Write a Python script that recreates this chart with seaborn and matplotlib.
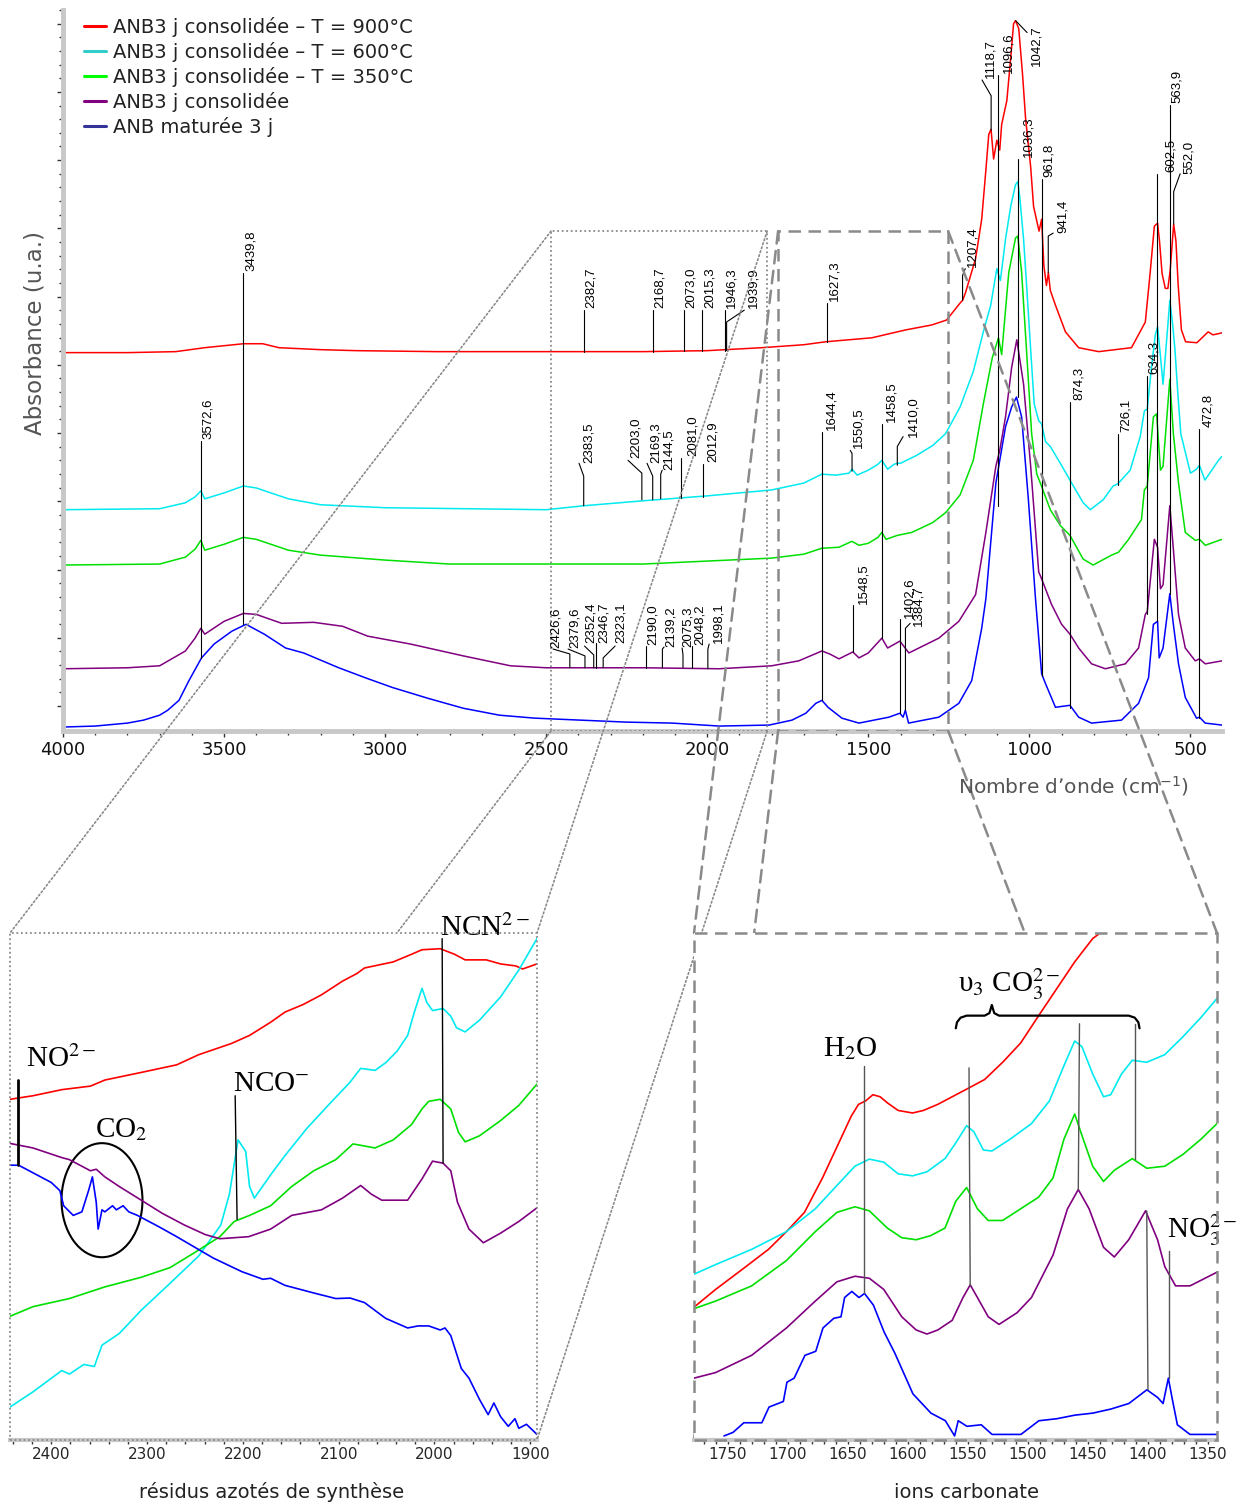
import numpy as np
import pandas as pd
import matplotlib
matplotlib.use("Agg")
import matplotlib.pyplot as plt
import seaborn as sns
from matplotlib.lines import Line2D
from matplotlib.patches import Rectangle, Ellipse, ConnectionPatch
from matplotlib.ticker import MultipleLocator, NullFormatter

sns.set_theme(style="white")
plt.rcParams["font.family"] = ["DejaVu Sans"]
plt.rcParams["mathtext.fontset"] = "dejavusans"

red = "#FF0000"
cyan = "#00EAF0"
green = "#00E000"
purple = "#800080"
blue = "#0000FF"
grey = "#8A8A8A"
axis_grey = "#C8C8C8"

# ---------------- main spectra (wavenumber cm-1 / absorbance u.a., stacked) ----------------
red_w = [4000, 3800, 3650, 3560, 3500, 3440, 3380, 3330, 3200, 3090, 2840, 2500, 2200, 2000, 1830,
         1700, 1632, 1489, 1384, 1303, 1257, 1213, 1207, 1198, 1167, 1148, 1136, 1126, 1119, 1111,
         1101, 1092, 1086, 1070, 1058, 1049, 1043, 1033, 1021, 1012, 996, 987, 970, 962, 955, 947,
         941, 935, 919, 888, 847, 785, 683, 640, 625, 612, 602, 596, 588, 578, 570, 563, 552, 545,
         538, 528, 515, 480, 445, 430, 402]
red_a = [3.83, 3.83, 3.84, 3.88, 3.90, 3.92, 3.92, 3.88, 3.86, 3.85, 3.84, 3.84, 3.84, 3.85, 3.88,
         3.91, 3.94, 3.98, 4.06, 4.11, 4.16, 4.34, 4.36, 4.44, 4.78, 5.18, 5.64, 6.04, 6.09, 5.79,
         5.98, 5.88, 6.14, 6.38, 6.81, 7.16, 7.19, 7.11, 6.64, 6.21, 5.71, 5.31, 5.06, 5.18, 4.71, 4.51,
         4.64, 4.46, 4.31, 4.04, 3.88, 3.84, 3.88, 4.14, 4.64, 5.11, 5.14, 4.96, 4.63, 4.48, 4.48, 4.66,
         5.13, 4.96, 4.51, 4.06, 3.94, 3.93, 4.04, 4.01, 4.03]

cyan_w = [4000, 3700, 3620, 3590, 3572, 3560, 3500, 3440, 3400, 3300, 3200, 3000, 2500, 2383, 2200,
          2000, 1800, 1700, 1644, 1600, 1560, 1550, 1535, 1500, 1470, 1458, 1440, 1420, 1410, 1400,
          1350, 1300, 1260, 1215, 1174, 1143, 1120, 1101, 1090, 1074, 1058, 1043, 1036, 1030, 1018,
          1008, 995, 985, 971, 962, 950, 935, 904, 874, 833, 811, 771, 740, 726, 687, 656, 643, 634,
          621, 609, 602, 595, 585, 575, 564, 555, 548, 540, 530, 500, 481, 472, 455, 440, 413, 402]
cyan_a = [2.24, 2.25, 2.31, 2.37, 2.43, 2.35, 2.41, 2.48, 2.46, 2.35, 2.29, 2.26, 2.24, 2.28, 2.33,
          2.38, 2.44, 2.51, 2.60, 2.59, 2.61, 2.65, 2.59, 2.64, 2.70, 2.74, 2.65, 2.70, 2.71, 2.71,
          2.79, 2.89, 3.01, 3.28, 3.64, 4.04, 4.31, 4.68, 4.56, 4.98, 5.31, 5.53, 5.56, 5.41, 4.98,
          4.48, 3.81, 3.31, 3.14, 3.11, 2.93, 2.88, 2.71, 2.54, 2.31, 2.24, 2.34, 2.48, 2.50, 2.64,
          2.98, 3.24, 3.26, 3.68, 4.01, 4.09, 3.86, 3.51, 3.91, 4.36, 4.11, 3.86, 3.46, 3.01, 2.61,
          2.65, 2.69, 2.54, 2.61, 2.74, 2.78]

green_w = [4000, 3700, 3620, 3590, 3572, 3560, 3500, 3440, 3400, 3300, 3200, 3000, 2800, 2200, 2000,
           1800, 1700, 1644, 1591, 1551, 1529, 1500, 1470, 1458, 1445, 1410, 1365, 1300, 1260, 1215,
           1174, 1143, 1115, 1096, 1086, 1064, 1043, 1036, 1024, 1008, 993, 977, 966, 935, 904, 874,
           833, 802, 745, 723, 692, 652, 643, 634, 615, 605, 593, 585, 564, 553, 537, 516, 485, 472,
           454, 402]
green_a = [1.68, 1.69, 1.76, 1.84, 1.93, 1.83, 1.89, 1.96, 1.94, 1.83, 1.78, 1.73, 1.69, 1.69, 1.72,
           1.75, 1.79, 1.85, 1.86, 1.92, 1.88, 1.90, 1.96, 2.01, 1.94, 1.98, 2.01, 2.11, 2.21, 2.39,
           2.74, 3.31, 3.78, 3.98, 3.81, 4.64, 4.99, 5.01, 4.64, 3.81, 3.01, 2.60, 2.51, 2.24, 2.08,
           1.98, 1.74, 1.68, 1.78, 1.81, 1.94, 2.14, 2.44, 2.48, 3.18, 3.21, 2.64, 2.68, 3.56, 3.01,
           2.51, 2.01, 1.93, 1.94, 1.88, 1.94]

purple_w = [4000, 3800, 3700, 3620, 3590, 3572, 3560, 3500, 3440, 3400, 3321, 3222, 3132, 3054, 2921,
            2757, 2611, 2500, 2200, 1963, 1800, 1716, 1644, 1620, 1591, 1548, 1529, 1500, 1458, 1440,
            1402, 1374, 1281, 1219, 1167, 1135, 1104, 1092, 1074, 1055, 1039, 1018, 996, 971, 962,
            931, 900, 874, 847, 807, 764, 702, 661, 640, 634, 612, 602, 593, 585, 564, 553, 537, 516,
            485, 472, 454, 402]
purple_a = [0.63, 0.64, 0.66, 0.81, 0.94, 1.04, 0.98, 1.11, 1.19, 1.18, 1.09, 1.10, 1.06, 0.96, 0.88,
            0.76, 0.66, 0.64, 0.64, 0.63, 0.66, 0.71, 0.81, 0.78, 0.73, 0.80, 0.74, 0.79, 0.94, 0.84,
            0.91, 0.79, 0.94, 1.11, 1.38, 2.01, 2.68, 2.84, 3.18, 3.68, 3.96, 3.51, 2.68, 1.61, 1.54,
            1.28, 1.08, 0.98, 0.84, 0.68, 0.63, 0.68, 0.84, 1.18, 1.21, 1.94, 1.86, 1.44, 1.48, 2.28,
            1.84, 1.18, 0.84, 0.71, 0.73, 0.68, 0.71]

blue_w = [4000, 3900, 3800, 3750, 3700, 3675, 3640, 3609, 3570, 3531, 3476, 3432, 3375, 3309, 3253,
          3144, 3054, 2977, 2866, 2757, 2645, 2535, 2252, 2109, 1963, 1808, 1737, 1694, 1663, 1644,
          1625, 1582, 1529, 1436, 1402, 1392, 1385, 1375, 1281, 1219, 1179, 1148, 1135, 1104, 1074,
          1055, 1040, 1024, 1003, 981, 962, 950, 919, 874, 847, 807, 714, 661, 630, 615, 602, 597,
          585, 564, 553, 537, 516, 481, 472, 454, 402]
blue_a = [0.04, 0.05, 0.08, 0.11, 0.16, 0.21, 0.31, 0.51, 0.74, 0.88, 1.01, 1.08, 0.98, 0.84, 0.79,
          0.64, 0.53, 0.44, 0.33, 0.23, 0.16, 0.13, 0.09, 0.08, 0.05, 0.06, 0.11, 0.18, 0.28, 0.31,
          0.24, 0.13, 0.08, 0.14, 0.18, 0.14, 0.21, 0.08, 0.14, 0.28, 0.51, 1.04, 1.34, 2.51, 3.08,
          3.28, 3.38, 3.18, 2.34, 1.34, 0.58, 0.48, 0.24, 0.26, 0.14, 0.08, 0.11, 0.28, 0.54, 1.08,
          1.11, 0.74, 0.84, 1.39, 1.08, 0.68, 0.34, 0.13, 0.14, 0.08, 0.06]

legend_labels = ["ANB3 j consolidée – T = 900°C", "ANB3 j consolidée – T = 600°C",
                 "ANB3 j consolidée – T = 350°C", "ANB3 j consolidée", "ANB maturée 3 j"]
legend_colors = ["#FF0000", "#33CCCC", "#00FF00", "#800080", "#333399"]

# peak marks: text, line wavenumber, y on curve, y top, leader end (w, y), text pos (w, y)
main_marks = [
    ("3439,8", 3439.8, 1.08, 4.64, None, None, 3436, 4.66),
    ("3572,6", 3572.6, 0.74, 2.94, None, None, 3569, 2.96),
    ("2382,7", 2382.7, 3.84, 4.26, None, None, 2379, 4.28),
    ("2168,7", 2168.7, 3.84, 4.26, None, None, 2165, 4.28),
    ("2073,0", 2073.0, 3.85, 4.26, None, None, 2070, 4.28),
    ("2015,3", 2015.3, 3.85, 4.26, None, None, 2012, 4.28),
    ("1946,3", 1946.3, 3.85, 4.26, None, None, 1943, 4.28),
    ("1939,9", 1939.9, 3.85, 4.14, 1885, 4.26, 1876, 4.28),
    ("1627,3", 1627.3, 3.94, 4.33, None, None, 1624, 4.35),
    ("1207,4", 1207.4, 4.36, 4.61, 1199, 4.68, 1196, 4.70),
    ("1118,7", 1118.7, 6.08, 6.43, 1147, 6.59, 1140, 6.61),
    ("1096,6", 1096.6, 2.28, 6.64, None, None, 1085, 6.66),
    ("1042,7", 1042.7, 7.19, 7.19, 1007, 7.07, 997, 6.73),
    ("1036,3", 1036.3, 3.38, 5.79, None, None, 1022, 5.81),
    ("961,8", 961.8, 0.56, 5.59, None, None, 957, 5.61),
    ("941,4", 941.4, 4.64, 5.01, 926, 5.04, 914, 5.04),
    ("874,3", 874.3, 0.23, 3.33, None, None, 864, 3.35),
    ("726,1", 726.1, 2.49, 3.01, None, None, 718, 3.03),
    ("634,3", 634.3, 1.18, 3.59, None, None, 631, 3.61),
    ("602,5", 602.5, 1.11, 5.64, None, None, 578, 5.66),
    ("563,9", 563.9, 1.39, 6.34, None, None, 560, 6.36),
    ("552,0", 552.0, 5.13, 5.46, 532, 5.64, 522, 5.64),
    ("472,8", 472.8, 0.13, 3.06, None, None, 463, 3.08),
    ("2383,5", 2383.5, 2.28, 2.58, 2398, 2.71, 2385, 2.71),
    ("2203,0", 2203.0, 2.34, 2.61, 2246, 2.74, 2240, 2.76),
    ("2169,3", 2169.3, 2.34, 2.58, 2187, 2.71, 2177, 2.71),
    ("2144,5", 2144.5, 2.35, 2.60, 2140, 2.64, 2137, 2.64),
    ("2081,0", 2081.0, 2.36, 2.76, None, None, 2063, 2.78),
    ("2012,9", 2012.9, 2.37, 2.70, None, None, 2000, 2.72),
    ("1644,4", 1644.4, 0.31, 3.03, None, None, 1634, 3.05),
    ("1550,5", 1550.5, 2.63, 2.81, 1556, 2.84, 1550, 2.86),
    ("1458,5", 1458.5, 0.94, 3.11, None, None, 1448, 3.13),
    ("1410,0", 1410.0, 2.69, 2.88, 1392, 2.98, 1379, 2.98),
    ("2426,6", 2426.6, 0.64, 0.78, 2479, 0.83, 2488, 0.84),
    ("2379,6", 2379.6, 0.64, 0.76, 2432, 0.83, 2430, 0.84),
    ("2352,4", 2352.4, 0.64, 0.77, 2381, 0.86, 2379, 0.89),
    ("2346,7", 2346.7, 0.64, 0.89, None, None, 2341, 0.89),
    ("2323,1", 2323.1, 0.64, 0.74, 2286, 0.86, 2286, 0.89),
    ("2190,0", 2190.0, 0.64, 0.86, None, None, 2187, 0.87),
    ("2139,2", 2139.2, 0.64, 0.83, 2134, 0.85, 2131, 0.85),
    ("2075,3", 2075.3, 0.64, 0.77, 2078, 0.84, 2078, 0.85),
    ("2048,2", 2048.2, 0.64, 0.86, None, None, 2041, 0.87),
    ("1998,1", 1998.1, 0.63, 0.83, 1994, 0.88, 1985, 0.89),
    ("1548,5", 1548.5, 0.80, 1.28, None, None, 1535, 1.29),
    ("1402,6", 1402.6, 0.18, 1.13, None, None, 1392, 1.14),
    ("1384,7", 1384.7, 0.21, 1.04, 1370, 1.09, 1364, 1.06),
]

# ---------------- inset 1 : nitrogen residues (2443-1893 cm-1) ----------------
n_red_w = [2443, 2419, 2389, 2359, 2344, 2306, 2269, 2246, 2212, 2193, 2171, 2156, 2137, 2118, 2096,
           2081, 2073, 2043, 2024, 2013, 1994, 1979, 1968, 1946, 1931, 1915, 1908, 1893]
n_red_a = [6.72, 6.79, 6.91, 6.98, 7.10, 7.25, 7.40, 7.60, 7.82, 7.98, 8.24, 8.44, 8.59, 8.78, 9.05,
           9.20, 9.31, 9.43, 9.58, 9.67, 9.69, 9.58, 9.47, 9.47, 9.39, 9.35, 9.29, 9.39]

n_cyan_w = [2443, 2419, 2389, 2381, 2366, 2355, 2347, 2329, 2306, 2276, 2246, 2223, 2214, 2205, 2197,
            2193, 2188, 2171, 2156, 2133, 2111, 2088, 2077, 2062, 2051, 2039, 2028, 2021, 2013, 2008,
            2002, 1991, 1983, 1977, 1968, 1953, 1931, 1912, 1893]
n_cyan_a = [0.65, 0.95, 1.37, 1.30, 1.49, 1.45, 1.87, 2.10, 2.56, 3.09, 3.63, 4.24, 4.85, 5.92, 5.69,
            5.00, 4.77, 5.23, 5.61, 6.15, 6.60, 7.06, 7.33, 7.29, 7.44, 7.67, 7.98, 8.44, 8.91, 8.63,
            8.47, 8.51, 8.36, 8.13, 8.05, 8.28, 8.74, 9.27, 9.89]

n_green_w = [2443, 2419, 2381, 2344, 2306, 2276, 2250, 2224, 2209, 2193, 2171, 2149, 2126, 2103, 2085,
             2062, 2043, 2024, 2013, 2006, 1994, 1983, 1975, 1968, 1953, 1931, 1912, 1893]
n_green_a = [2.44, 2.63, 2.79, 3.02, 3.21, 3.40, 3.70, 4.01, 4.31, 4.43, 4.62, 5.00, 5.31, 5.53, 5.84,
             5.76, 5.92, 6.22, 6.53, 6.68, 6.72, 6.53, 6.07, 5.88, 6.00, 6.30, 6.60, 7.02]

n_purple_w = [2443, 2419, 2389, 2381, 2359, 2353, 2344, 2329, 2306, 2284, 2261, 2239, 2224, 2194, 2171,
              2149, 2118, 2096, 2077, 2066, 2055, 2028, 2013, 2002, 1991, 1983, 1976, 1964, 1949, 1931,
              1912, 1893]
n_purple_a = [5.85, 5.76, 5.57, 5.53, 5.31, 5.34, 5.19, 5.00, 4.73, 4.47, 4.24, 4.05, 3.97, 4.01, 4.16,
              4.43, 4.54, 4.77, 5.02, 4.85, 4.73, 4.73, 5.15, 5.50, 5.46, 5.31, 4.69, 4.16, 3.89, 4.08,
              4.31, 4.58]

n_blue_w = [2443, 2434, 2419, 2400, 2391, 2387, 2377, 2368, 2361, 2357, 2353, 2351, 2347, 2344, 2336,
            2332, 2325, 2319, 2310, 2287, 2269, 2231, 2201, 2179, 2171, 2156, 2126, 2103, 2088, 2073,
            2051, 2028, 2017, 2006, 1994, 1989, 1983, 1972, 1964, 1953, 1944, 1938, 1931, 1923, 1916,
            1912, 1904, 1893]
n_blue_a = [5.42, 5.42, 5.27, 5.08, 4.92, 4.62, 4.43, 4.50, 4.92, 5.19, 4.69, 4.16, 4.54, 4.50, 4.62,
            4.54, 4.62, 4.50, 4.43, 4.20, 4.01, 3.59, 3.32, 3.17, 3.19, 3.05, 2.90, 2.79, 2.80, 2.71,
            2.40, 2.21, 2.25, 2.25, 2.17, 2.21, 2.06, 1.41, 1.22, 0.80, 0.50, 0.73, 0.46, 0.27, 0.42,
            0.23, 0.31, 0.11]

# ---------------- inset 2 : carbonate ions (1778-1342 cm-1) ----------------
c_red_w = [1778, 1760, 1737, 1716, 1701, 1686, 1671, 1659, 1647, 1641, 1635, 1629, 1623, 1617, 1608,
           1596, 1587, 1575, 1563, 1551, 1536, 1521, 1506, 1491, 1476, 1461, 1446, 1437]
c_red_a = [2.62, 2.97, 3.38, 3.76, 4.11, 4.49, 5.17, 5.78, 6.39, 6.62, 6.69, 6.81, 6.77, 6.65, 6.50,
           6.45, 6.50, 6.62, 6.77, 6.92, 7.11, 7.45, 7.83, 8.37, 8.90, 9.43, 9.89, 10.05]

c_cyan_w = [1778, 1760, 1730, 1701, 1677, 1659, 1644, 1632, 1620, 1608, 1596, 1584, 1569, 1560, 1551,
            1545, 1537, 1530, 1515, 1497, 1482, 1470, 1461, 1455, 1446, 1437, 1431, 1422, 1413, 1401,
            1386, 1371, 1356, 1342.5]
c_cyan_a = [3.27, 3.46, 3.76, 4.11, 4.56, 5.02, 5.40, 5.54, 5.48, 5.25, 5.21, 5.29, 5.55, 5.86, 6.20,
            6.08, 5.72, 5.70, 5.93, 6.24, 6.69, 7.38, 7.87, 7.76, 7.22, 6.77, 6.81, 7.22, 7.49, 7.45,
            7.60, 7.95, 8.33, 8.71]

c_green_w = [1778, 1760, 1730, 1701, 1677, 1659, 1644, 1632, 1617, 1605, 1593, 1581, 1569, 1560, 1551,
             1542, 1533, 1521, 1506, 1491, 1479, 1470, 1461, 1455, 1446, 1437, 1428, 1413, 1401, 1386,
             1371, 1356, 1342.5]
c_green_a = [2.59, 2.74, 3.04, 3.54, 4.11, 4.49, 4.60, 4.52, 4.18, 3.99, 3.95, 4.03, 4.18, 4.71, 4.98,
             4.56, 4.33, 4.33, 4.56, 4.79, 5.17, 5.93, 6.43, 6.01, 5.40, 5.10, 5.32, 5.55, 5.36, 5.40,
             5.63, 5.93, 6.24]

c_purple_w = [1778, 1760, 1730, 1701, 1677, 1659, 1644, 1632, 1620, 1605, 1593, 1584, 1575, 1563, 1554,
              1548, 1542, 1533, 1524, 1509, 1497, 1479, 1467, 1458, 1449, 1437, 1428, 1416, 1402, 1392,
              1386, 1377, 1365, 1342.5]
c_purple_a = [1.22, 1.33, 1.67, 2.21, 2.74, 3.12, 3.23, 3.19, 2.97, 2.43, 2.17, 2.09, 2.17, 2.36, 2.81,
              3.06, 2.81, 2.43, 2.28, 2.51, 2.81, 3.65, 4.56, 4.94, 4.56, 3.80, 3.61, 3.95, 4.52, 3.95,
              3.42, 3.04, 3.04, 3.31]

c_blue_w = [1753, 1745.5, 1736.5, 1721.5, 1715.5, 1703.6, 1700.6, 1694.6, 1685.6, 1676.6, 1670.6,
            1661.6, 1655.6, 1652.6, 1646.6, 1640.6, 1636, 1628.6, 1619.7, 1610.7, 1595.7, 1580.7,
            1568.7, 1561, 1558, 1550.7, 1538.8, 1529.8, 1505.8, 1490.8, 1475.8, 1460.9, 1445.9,
            1430.9, 1415.9, 1400.9, 1392, 1387.4, 1383, 1380, 1375.5, 1365, 1342.5]
c_blue_a = [0.08, 0.15, 0.34, 0.34, 0.65, 0.76, 1.14, 1.22, 1.67, 1.75, 2.21, 2.40, 2.43, 2.81, 2.93,
            2.81, 2.89, 2.66, 2.13, 1.71, 0.91, 0.53, 0.38, 0.08, 0.38, 0.27, 0.30, 0.11, 0.11, 0.38,
            0.42, 0.49, 0.53, 0.61, 0.72, 0.99, 0.84, 0.72, 1.22, 0.84, 0.30, 0.11, 0.11]

# zoom windows in the main plot (cm-1) and their height
zoom_n = (2485, 1814)
zoom_c = (1780, 1252)
win_top = 5.06


def draw_curve(axis, w, a, color, lw=1.1):
    df = pd.DataFrame({"w": w, "a": a})
    sns.lineplot(data=df, x="w", y="a", ax=axis, color=color, linewidth=lw,
                 estimator=None, sort=False, legend=False)
    axis.set_xlabel("")
    axis.set_ylabel("")


fig = plt.figure(figsize=(12.43, 15.04), dpi=100)
ax = fig.add_axes([63 / 1243, 1 - 731 / 1504, 1159 / 1243, 721 / 1504])
ax_n = fig.add_axes([10 / 1243, 1 - 1440 / 1504, 527 / 1243, 507 / 1504])
ax_c = fig.add_axes([694 / 1243, 1 - 1440 / 1504, 523 / 1243, 507 / 1504])
ax.set_zorder(0)
ax_n.set_zorder(3)
ax_c.set_zorder(3)

# ---- main plot ----
for w, a, c in [(blue_w, blue_a, blue), (purple_w, purple_a, purple), (green_w, green_a, green),
                (cyan_w, cyan_a, cyan), (red_w, red_a, red)]:
    draw_curve(ax, w, a, c)

for txt, w, y0, y1, lw_, ly, tw, ty in main_marks:
    xs = [w, w]
    ys = [y0, y1]
    if lw_ is not None:
        xs.append(lw_)
        ys.append(ly)
    ax.plot(xs, ys, color="black", lw=0.8, zorder=4)
    ax.text(tw, ty, txt, rotation=90, ha="left", va="bottom", fontsize=9.5,
            family="Liberation Sans", color="black", zorder=5)

ax.set_xlim(4000, 402)
ax.set_ylim(0, 7.21)
ax.xaxis.set_major_locator(MultipleLocator(500))
ax.xaxis.set_minor_locator(MultipleLocator(100))
ax.set_yticks(0.253 + 0.6907 * np.arange(11))
ax.set_yticks(0.253 + 0.13814 * np.arange(52), minor=True)
ax.yaxis.set_major_formatter(NullFormatter())
ax.tick_params(axis="both", which="both", bottom=True, left=True, direction="out",
               color="#333333", width=1)
ax.tick_params(axis="both", which="major", length=4.5)
ax.tick_params(axis="both", which="minor", length=3)
ax.tick_params(axis="x", labelsize=13, pad=3, labelcolor="#111111")
for s in ["top", "right"]:
    ax.spines[s].set_visible(False)
for s in ["left", "bottom"]:
    ax.spines[s].set_color(axis_grey)
    ax.spines[s].set_linewidth(3.5)

handles = [Line2D([0], [0], color=c, lw=2.2) for c in legend_colors]
leg = ax.legend(handles, legend_labels, loc="upper left", bbox_to_anchor=(0.018, 0.99),
                frameon=False, fontsize=14, handlelength=1.15, handletextpad=0.35,
                labelspacing=0.25, borderaxespad=0, borderpad=0)
for t in leg.get_texts():
    t.set_color("#222222")

# zoom windows
ax.add_patch(Rectangle((zoom_n[1], 0), zoom_n[0] - zoom_n[1], win_top, fill=False, ec=grey,
                       lw=1.3, ls=(0, (1, 1.5)), zorder=3))
ax.add_patch(Rectangle((zoom_c[1], 0), zoom_c[0] - zoom_c[1], win_top, fill=False, ec=grey,
                       lw=1.8, ls=(0, (5, 3)), zorder=3))

fig.text(35 / 1243, 1 - 333 / 1504, "Absorbance (u.a.)", rotation=90, ha="center", va="center",
         fontsize=16.5, color="#555555")
fig.text(1073 / 1243, 1 - 786 / 1504, "Nombre d’onde (cm$^{-1}$)", ha="center", va="center",
         fontsize=14.5, color="#555555")

# connectors
for axis_in, win, ls, lw in [(ax_n, zoom_n, (0, (1, 1.5)), 1.2), (ax_c, zoom_c, (0, (5, 3)), 1.8)]:
    for xa, ya, xb, yb in [(win[0], win_top, 0, 1), (win[1], win_top, 1, 1),
                           (win[0], 0, 0, 0), (win[1], 0, 1, 0)]:
        con = ConnectionPatch(xyA=(xa, ya), coordsA=ax.transData, xyB=(xb, yb),
                              coordsB=axis_in.transAxes, color=grey, lw=lw, ls=ls)
        con.set_zorder(2)
        fig.add_artist(con)

# ---- insets ----
serif = dict(family="Liberation Serif", fontsize=21, math_fontfamily="stix", color="black")

for w, a, c in [(n_red_w, n_red_a, red), (n_cyan_w, n_cyan_a, cyan), (n_green_w, n_green_a, green),
                (n_purple_w, n_purple_a, purple), (n_blue_w, n_blue_a, blue)]:
    draw_curve(ax_n, w, a, c, lw=1.2)
for w, a, c in [(c_red_w, c_red_a, red), (c_cyan_w, c_cyan_a, cyan), (c_green_w, c_green_a, green),
                (c_purple_w, c_purple_a, purple), (c_blue_w, c_blue_a, blue)]:
    draw_curve(ax_c, w, a, c, lw=1.2)

ax_n.set_xlim(2443, 1893)
ax_c.set_xlim(1778, 1342.5)
for axis_in, major, minor, ls, lw in [(ax_n, 100, 20, (0, (1, 1.5)), 1.3),
                                      (ax_c, 50, 10, (0, (5, 3)), 1.8)]:
    axis_in.set_facecolor("white")
    axis_in.set_ylim(0, 10)
    axis_in.set_yticks([])
    axis_in.xaxis.set_major_locator(MultipleLocator(major))
    axis_in.xaxis.set_minor_locator(MultipleLocator(minor))
    axis_in.tick_params(axis="x", which="both", bottom=True, direction="out", color="#333333",
                        width=1, length=3, labelsize=11, pad=2)
    for s in ["top", "right", "left"]:
        axis_in.spines[s].set_visible(False)
    axis_in.spines["bottom"].set_color(axis_grey)
    axis_in.spines["bottom"].set_linewidth(3)
    axis_in.add_patch(Rectangle((0, 0), 1, 1, transform=axis_in.transAxes, fill=False, ec=grey,
                                lw=lw, ls=ls, clip_on=False, zorder=5))

# nitrogen residues annotations
ax_n.plot([2435, 2435], [5.42, 7.10], color="black", lw=2)
ax_n.text(2426, 7.35, r"NO$^{2-}$", ha="left", va="baseline", **serif)
ax_n.text(2354, 5.98, r"CO$_2$", ha="left", va="baseline", **serif)
ax_n.add_patch(Ellipse((2347, 4.73), 84.5, 2.25, fill=False, ec="black", lw=1.5))
ax_n.plot([2208, 2206], [6.79, 4.35], color="black", lw=1)
ax_n.text(2210, 6.89, r"NCO$^{-}$", ha="left", va="baseline", **serif)
ax_n.plot([1992, 1991], [9.89, 5.46], color="black", lw=1)
ax_n.text(1994, 9.95, r"NCN$^{2-}$", ha="left", va="baseline", **serif)

# carbonate annotations
ax_c.plot([1636.7, 1636.7], [7.38, 2.89], color="#555555", lw=1)
ax_c.text(1670.6, 7.57, r"H$_2$O", ha="left", va="baseline", **serif)
ax_c.text(1558, 8.84, r"υ$_3$ CO$_3^{2-}$", ha="left", va="baseline", **serif)
brace_w = [1560, 1559, 1556, 1551, 1536, 1532, 1530, 1528, 1524, 1416, 1411, 1408, 1407]
brace_a = [8.12, 8.24, 8.33, 8.37, 8.37, 8.42, 8.58, 8.42, 8.37, 8.37, 8.33, 8.24, 8.12]
ax_c.plot(brace_w, brace_a, color="black", lw=1.6)
for xs, ys in [([1549, 1548], [7.34, 3.04]), ([1457, 1458], [8.21, 4.94]),
               ([1411, 1411], [8.21, 5.55]), ([1401, 1400], [4.52, 0.99]),
               ([1382.5, 1382.5], [3.73, 1.22])]:
    ax_c.plot(xs, ys, color="#555555", lw=1)
ax_c.text(1384, 3.99, r"NO$_3^{2-}$", ha="left", va="baseline", **serif)

fig.text(272 / 1243, 1 - 1492 / 1504, "résidus azotés de synthèse", ha="center", va="center",
         fontsize=14, color="#222222")
fig.text(966 / 1243, 1 - 1492 / 1504, "ions carbonate", ha="center", va="center",
         fontsize=14, color="#222222")

fig.savefig("out.png", dpi=100)
